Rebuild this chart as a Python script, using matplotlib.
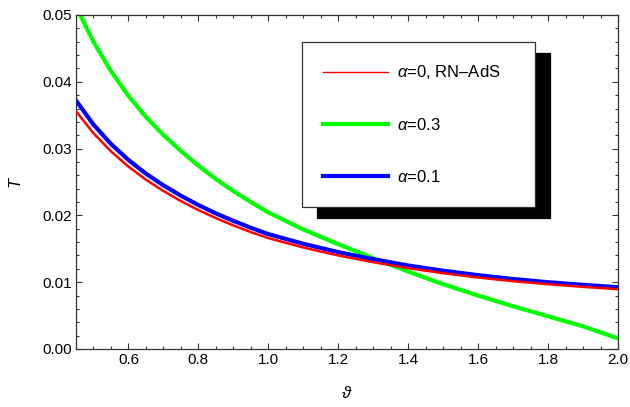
import matplotlib
matplotlib.use("Agg")
import matplotlib.pyplot as plt
from matplotlib.ticker import MultipleLocator, FormatStrFormatter
from matplotlib.lines import Line2D

plt.rcParams['font.family'] = ['Liberation Sans', 'DejaVu Sans']
plt.rcParams['mathtext.fontset'] = 'custom'
plt.rcParams['mathtext.rm'] = 'Liberation Sans'
plt.rcParams['mathtext.it'] = 'Liberation Sans:italic'

# theta values (x)
theta = [0.45, 0.50, 0.55, 0.60, 0.65, 0.70, 0.75, 0.80, 0.85, 0.90, 0.95,
         1.0, 1.1, 1.2, 1.3, 1.4, 1.5, 1.6, 1.7, 1.8, 1.9, 2.0]

# alpha = 0, RN-AdS (red)
T_a0 = [0.0356, 0.0323, 0.0296, 0.0273, 0.02535, 0.02365, 0.02215, 0.0208, 0.0196,
        0.0185, 0.0175, 0.0166, 0.0152, 0.0140, 0.0130, 0.0121, 0.01135, 0.0107,
        0.01015, 0.0097, 0.0093, 0.00895]

# alpha = 0.3 (green)
T_a03 = [0.0513, 0.0460, 0.0416, 0.0379, 0.03475, 0.03205, 0.02965, 0.02745, 0.02545,
         0.02365, 0.0220, 0.02045, 0.0179, 0.0157, 0.0136, 0.0116, 0.0097, 0.0080,
         0.0064, 0.0049, 0.0034, 0.0016]

# alpha = 0.1 (blue)
T_a01 = [0.0372, 0.0336, 0.0307, 0.0283, 0.02625, 0.0245, 0.02295, 0.02155, 0.0203,
         0.01918, 0.01815, 0.0172, 0.01575, 0.0145, 0.01345, 0.0125, 0.01172, 0.01105,
         0.01048, 0.0100, 0.0096, 0.00925]

labels = [r'$\alpha$=0, RN–AdS', r'$\alpha$=0.3', r'$\alpha$=0.1']

fig = plt.figure(figsize=(6.3, 4.07), dpi=100)
ax = fig.add_axes([76/630, 1 - 349/407, (618 - 76)/630, (349 - 15)/407])

ax.plot(theta, T_a0, color='#ff0000', lw=1.8, zorder=3)
ax.plot(theta, T_a03, color='#00ff00', lw=3.0, zorder=2)
ax.plot(theta, T_a01, color='#0000ff', lw=3.0, zorder=2.5)

ax.set_xlim(0.45, 2.0)
ax.set_ylim(0.0, 0.05)

ax.xaxis.set_major_locator(MultipleLocator(0.2))
ax.xaxis.set_minor_locator(MultipleLocator(0.05))
ax.yaxis.set_major_locator(MultipleLocator(0.01))
ax.yaxis.set_minor_locator(MultipleLocator(0.002))
ax.xaxis.set_major_formatter(FormatStrFormatter('%.1f'))
ax.yaxis.set_major_formatter(FormatStrFormatter('%.2f'))

spine_col = '#333333'
for s in ax.spines.values():
    s.set_color(spine_col)
    s.set_linewidth(0.9)
ax.tick_params(which='both', direction='in', top=True, right=True,
               color=spine_col, width=0.8, labelsize=11, labelcolor='black')
ax.tick_params(which='major', length=4.5, pad=3)
ax.tick_params(which='minor', length=2.3)

ax.set_xlabel(r'$\vartheta$', fontsize=12, labelpad=13)
ax.set_ylabel(r'$T$', fontsize=12, labelpad=13)

handles = [Line2D([], [], color='#ff0000', lw=1.0),
           Line2D([], [], color='#00ff00', lw=3.0),
           Line2D([], [], color='#0000ff', lw=3.0)]
leg = fig.legend(handles, labels, loc='upper left',
                 bbox_to_anchor=(301.7/630, 1 - 207.7/407, 233/630, 166/407),
                 bbox_transform=fig.transFigure, mode='expand',
                 fontsize=12, frameon=True, fancybox=False,
                 borderpad=1.3, labelspacing=2.15, handlelength=3.9,
                 handletextpad=0.5, borderaxespad=0,
                 shadow={'ox': 10.8, 'oy': -8.4, 'facecolor': 'black',
                         'edgecolor': 'black', 'alpha': 1.0})
leg.get_frame().set_edgecolor('#333333')
leg.get_frame().set_linewidth(0.9)

fig.savefig('out.png', dpi=100)
